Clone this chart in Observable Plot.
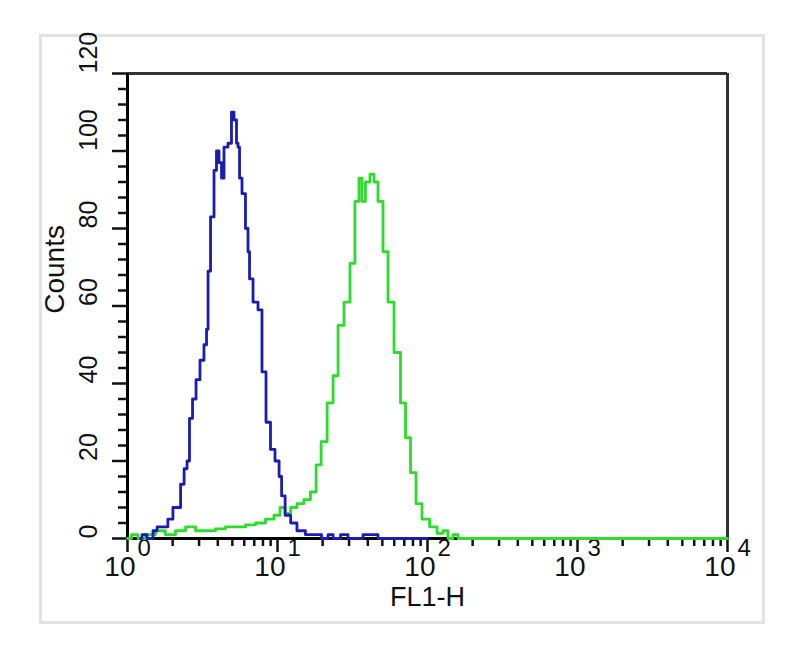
<!DOCTYPE html>
<html>
<head>
<meta charset="utf-8">
<script src="https://cdn.jsdelivr.net/npm/d3@7"></script>
<script src="https://cdn.jsdelivr.net/npm/@observablehq/plot@0.6"></script>
<style>
  html, body { margin: 0; padding: 0; background: #fff; }
  #chart { width: 800px; height: 656px; }
  svg { font-family: "Liberation Sans", Arial, sans-serif; }
</style>
</head>
<body>
<div id="chart"></div>
<script>
// FL1-H channel values (log axis) and counts for each histogram
const blueFL1 = [1.22, 1.28, 1.42, 1.54, 1.61, 1.79, 1.93, 2.09, 2.19, 2.33, 2.44, 2.55, 2.63, 2.80, 2.93, 3.16, 3.31, 3.42, 3.47, 3.69, 3.86, 3.98, 4.17, 4.30, 4.50, 4.86, 5.01, 5.25, 5.41, 5.50, 5.67, 5.93, 6.31, 6.41, 6.61, 7.14, 7.70, 8.07, 8.71, 9.26, 10.0, 10.5, 10.8, 11.7, 12.8, 14.2, 16.6, 18.5, 20.9, 22.6, 24.4, 28.4, 30.7, 45.0, 48.6, 66.1, 100];
const blueCounts = [0, 1, 0, 2, 3, 3, 5, 8, 8, 14, 18, 20, 31, 36, 41, 46, 50, 54, 69, 83, 95, 100, 97, 93, 101, 102, 110, 108, 102, 101, 93, 89, 80, 74, 67, 61, 59, 43, 30, 23, 20, 16, 11, 6, 4, 2, 1, 1, 0, 1, 0, 1, 0, 1, 0, 0, 0];

const greenFL1 = [1, 1.13, 1.22, 1.42, 1.66, 1.93, 2.26, 2.63, 3.07, 3.58, 4.17, 4.86, 5.67, 6.61, 7.70, 8.98, 10.0, 10.8, 11.7, 12.8, 14.2, 15.8, 17.4, 18.8, 20.3, 22.6, 24.4, 26.3, 29.3, 31.6, 34.1, 35.8, 37.4, 39.8, 43.0, 45.0, 48.6, 52.5, 56.7, 63.1, 69.2, 73.6, 80.7, 87.1, 97.0, 110, 122, 132, 142, 154, 166, 10000];
const greenCounts = [0, 1, 0, 1, 2, 1, 2, 3, 2, 2, 2.5, 3, 3, 3.5, 4, 5, 6, 8, 6.5, 8, 9, 10, 12, 19, 25, 35, 42, 55, 61, 71, 87, 93, 87, 92, 94, 92, 87, 74, 61, 48, 35, 26, 17, 9, 5, 3, 1.3, 2, 0, 1, 0, 0];

// axis ticks
const yMajorTicks = [0, 20, 40, 60, 80, 100, 120];
const yMinorTicks = [4, 8, 12, 16, 24, 28, 32, 36, 44, 48, 52, 56, 64, 68, 72, 76, 84, 88, 92, 96, 104, 108, 112, 116];
const xMajorTicks = [1, 10, 100, 1000, 10000];
const xExponents = ["0", "1", "2", "3", "4"];
const xMinorTicks = [2, 3, 4, 5, 6, 7, 8, 9, 20, 30, 40, 50, 60, 70, 80, 90, 200, 300, 400, 500, 600, 700, 800, 900, 2000, 3000, 4000, 5000, 6000, 7000, 8000, 9000];

const blue = blueFL1.map((x, i) => ({x, y: blueCounts[i]}));
const green = greenFL1.map((x, i) => ({x, y: greenCounts[i]}));
const xLabels = xMajorTicks.map((x, i) => ({x, e: xExponents[i]}));

const chart = Plot.plot({
  width: 800,
  height: 656,
  marginLeft: 127,
  marginRight: 73,
  marginTop: 73,
  marginBottom: 118,
  x: {type: "log", domain: [1, 10000], axis: null},
  y: {domain: [0, 120], axis: null},
  marks: [
    // outer light frame
    Plot.frame({stroke: "#e2e2e2", strokeWidth: 3, insetLeft: -87, insetTop: -38, insetRight: -36, insetBottom: -84}),
    // y ticks
    Plot.axisY({ticks: yMinorTicks, tickSize: 9, text: null, label: null, strokeWidth: 2.5, stroke: "#111"}),
    Plot.axisY({ticks: yMajorTicks, tickSize: 15, text: null, label: null, strokeWidth: 2.5, stroke: "#111"}),
    Plot.text(yMajorTicks, {y: d => d, text: d => String(d), frameAnchor: "left", dx: -39, rotate: -90, fontSize: 25, fill: "#111"}),
    // x ticks
    Plot.axisX({ticks: xMinorTicks, tickSize: 8, text: null, label: null, strokeWidth: 2.5, stroke: "#111"}),
    Plot.axisX({ticks: xMajorTicks, tickSize: 14, text: null, label: null, strokeWidth: 2.5, stroke: "#111"}),
    Plot.text(xLabels, {x: "x", text: () => "10", frameAnchor: "bottom", textAnchor: "end", dx: 8, dy: 37, fontSize: 28, fill: "#111"}),
    Plot.text(xLabels, {x: "x", text: "e", frameAnchor: "bottom", textAnchor: "start", dx: 10, dy: 17, fontSize: 24, fill: "#111"}),
    // axis titles
    Plot.text(["Counts"], {y: 58, text: d => d, frameAnchor: "left", dx: -72, rotate: -90, fontSize: 28, fill: "#111"}),
    Plot.text(["FL1-H"], {text: d => d, frameAnchor: "bottom", dy: 67, fontSize: 27, fill: "#111"}),
    // frame lines
    Plot.ruleY([120], {stroke: "#333", strokeWidth: 3}),
    Plot.ruleX([10000], {stroke: "#333", strokeWidth: 3}),
    Plot.ruleX([1], {stroke: "#000", strokeWidth: 3}),
    Plot.ruleY([0], {stroke: "#000", strokeWidth: 3}),
    // histograms
    Plot.line(green, {x: "x", y: "y", curve: "step", stroke: "#2ddc2d", strokeWidth: 2.8}),
    Plot.line(blue, {x: "x", y: "y", curve: "step", stroke: "#1c1cb0", strokeWidth: 2.8})
  ]
});
document.getElementById("chart").appendChild(chart);
</script>
</body>
</html>
